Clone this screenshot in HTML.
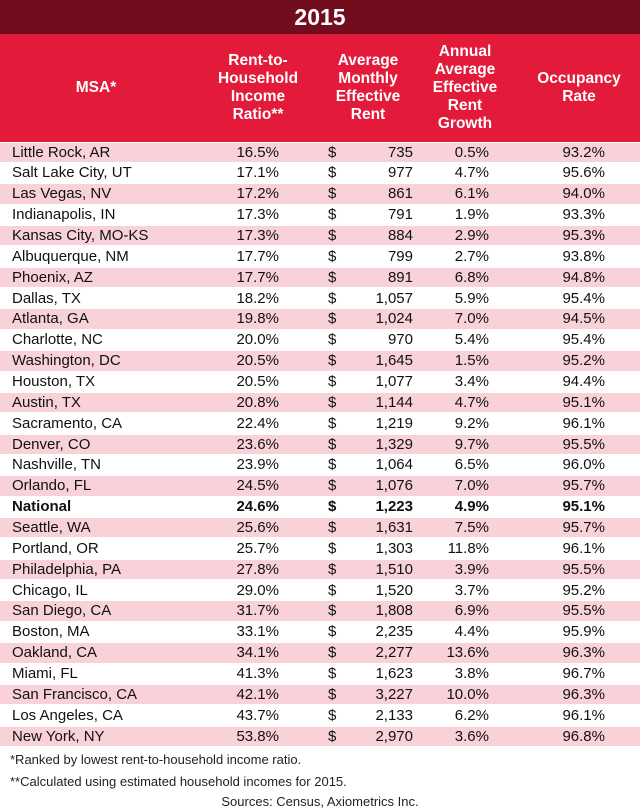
<!DOCTYPE html>
<html><head><meta charset="utf-8">
<style>
body{margin:0;width:640px;height:808px;background:#fff;font-family:"Liberation Sans",Arial,sans-serif;position:relative;overflow:hidden}
.t{position:absolute;left:0;top:0;width:640px;height:34px;background:#720d1d;color:#fff;font-weight:bold;font-size:23px;text-align:center;line-height:34px}
.h{position:absolute;left:0;top:34px;width:640px;height:108px;background:#e31a3a;color:#fff;font-weight:bold;font-size:15.5px;line-height:18px}
.h div{position:absolute;text-align:center;transform:translate(-50%,-50%);top:54px;white-space:nowrap}
.r{position:absolute;left:0;width:640px;height:19.5px;font-size:15px;color:#111;line-height:20px}
.r span{position:absolute;white-space:nowrap}
.f{position:absolute;font-size:13px;color:#222}
</style></head><body>
<div class="t">2015</div>
<div class="h">
<div style="left:96px">MSA*</div>
<div style="left:258px">Rent-to-<br>Household<br>Income<br>Ratio**</div>
<div style="left:368px">Average<br>Monthly<br>Effective<br>Rent</div>
<div style="left:465px">Annual<br>Average<br>Effective<br>Rent<br>Growth</div>
<div style="left:579px">Occupancy<br>Rate</div>
</div>
<div id="rows"></div>
<div class="f" style="left:10px;top:752px">*Ranked by lowest rent-to-household income ratio.</div>
<div class="f" style="left:10px;top:774px">**Calculated using estimated household incomes for 2015.</div>
<div class="f" style="left:0;width:640px;text-align:center;top:794px">Sources: Census, Axiometrics Inc.</div>
<script>
const msas=["Little Rock, AR","Salt Lake City, UT","Las Vegas, NV","Indianapolis, IN","Kansas City, MO-KS","Albuquerque, NM","Phoenix, AZ","Dallas, TX","Atlanta, GA","Charlotte, NC","Washington, DC","Houston, TX","Austin, TX","Sacramento, CA","Denver, CO","Nashville, TN","Orlando, FL","National","Seattle, WA","Portland, OR","Philadelphia, PA","Chicago, IL","San Diego, CA","Boston, MA","Oakland, CA","Miami, FL","San Francisco, CA","Los Angeles, CA","New York, NY"];
const ratios=["16.5%","17.1%","17.2%","17.3%","17.3%","17.7%","17.7%","18.2%","19.8%","20.0%","20.5%","20.5%","20.8%","22.4%","23.6%","23.9%","24.5%","24.6%","25.6%","25.7%","27.8%","29.0%","31.7%","33.1%","34.1%","41.3%","42.1%","43.7%","53.8%"];
const rents=["735","977","861","791","884","799","891","1,057","1,024","970","1,645","1,077","1,144","1,219","1,329","1,064","1,076","1,223","1,631","1,303","1,510","1,520","1,808","2,235","2,277","1,623","3,227","2,133","2,970"];
const growth=["0.5%","4.7%","6.1%","1.9%","2.9%","2.7%","6.8%","5.9%","7.0%","5.4%","1.5%","3.4%","4.7%","9.2%","9.7%","6.5%","7.0%","4.9%","7.5%","11.8%","3.9%","3.7%","6.9%","4.4%","13.6%","3.8%","10.0%","6.2%","3.6%"];
const occupancy=["93.2%","95.6%","94.0%","93.3%","95.3%","93.8%","94.8%","95.4%","94.5%","95.4%","95.2%","94.4%","95.1%","96.1%","95.5%","96.0%","95.7%","95.1%","95.7%","96.1%","95.5%","95.2%","95.5%","95.9%","96.3%","96.7%","96.3%","96.1%","96.8%"];
const c=document.getElementById('rows');
const rowH=20.86, top0=142.5;
msas.forEach((m,i)=>{
 const r=document.createElement('div');
 r.className='r';
 
 
 r.style.top=(top0+i*rowH)+'px';
 r.style.background=i%2===0?'#f9d1d9':'#fff';
 if(m==='National'){r.style.fontWeight='bold';}
 r.innerHTML='<span style="left:12px">'+m+'</span>'+
 '<span style="right:361px">'+ratios[i]+'</span>'+
 '<span style="left:328px">$</span>'+
 '<span style="right:227px">'+rents[i]+'</span>'+
 '<span style="right:151px">'+growth[i]+'</span>'+
 '<span style="right:35px">'+occupancy[i]+'</span>';
 c.appendChild(r);
});
</script>
</body></html>
